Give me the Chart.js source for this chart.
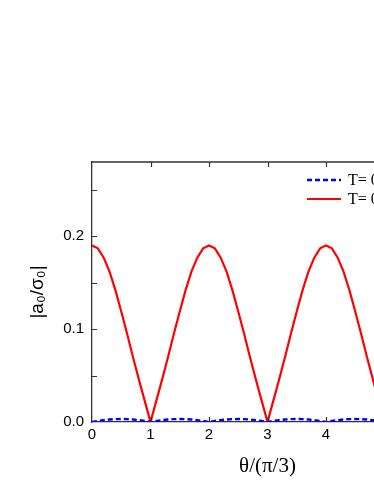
<!DOCTYPE html>
<html>
<head>
<meta charset="utf-8">
<script src="https://cdn.jsdelivr.net/npm/chart.js@4.4.0/dist/chart.umd.min.js"></script>
<style>
html, body { margin: 0; padding: 0; background: #fff; overflow: hidden; }
</style>
</head>
<body>
<canvas id="myChart" width="470" height="484"></canvas>
<script>
Chart.defaults.color = 'black';
Chart.defaults.font.family = "'Liberation Sans', Arial, sans-serif";


// DATA
// ================================================================
var theta = [
	0.0, 0.1, 0.2, 0.3, 0.4, 0.5, 0.6, 0.7, 0.8, 0.9,
	1.0, 1.1, 1.2, 1.3, 1.4, 1.5, 1.6, 1.7, 1.8, 1.9,
	2.0, 2.1, 2.2, 2.3, 2.4, 2.5, 2.6, 2.7, 2.8, 2.9,
	3.0, 3.1, 3.2, 3.3, 3.4, 3.5, 3.6, 3.7, 3.8, 3.9,
	4.0, 4.1, 4.2, 4.3, 4.4, 4.5, 4.6, 4.7, 4.8, 4.9,
	5.0, 5.1, 5.2, 5.3, 5.4, 5.5, 5.6, 5.7, 5.8, 5.9,
	6.0
];

var seriesLow = [
	0.0000, 0.0011, 0.0020, 0.0027, 0.0031, 0.0032, 0.0031, 0.0027, 0.0020, 0.0011,
	0.0000, 0.0011, 0.0020, 0.0027, 0.0031, 0.0032, 0.0031, 0.0027, 0.0020, 0.0011,
	0.0000, 0.0011, 0.0020, 0.0027, 0.0031, 0.0032, 0.0031, 0.0027, 0.0020, 0.0011,
	0.0000, 0.0011, 0.0020, 0.0027, 0.0031, 0.0032, 0.0031, 0.0027, 0.0020, 0.0011,
	0.0000, 0.0011, 0.0020, 0.0027, 0.0031, 0.0032, 0.0031, 0.0027, 0.0020, 0.0011,
	0.0000, 0.0011, 0.0020, 0.0027, 0.0031, 0.0032, 0.0031, 0.0027, 0.0020, 0.0011,
	0.0000
];

var seriesHigh = [
	0.190, 0.187, 0.177, 0.162, 0.142, 0.119, 0.095, 0.070, 0.046, 0.023,
	0.000, 0.023, 0.046, 0.070, 0.095, 0.119, 0.142, 0.162, 0.177, 0.187,
	0.190, 0.187, 0.177, 0.162, 0.142, 0.119, 0.095, 0.070, 0.046, 0.023,
	0.000, 0.023, 0.046, 0.070, 0.095, 0.119, 0.142, 0.162, 0.177, 0.187,
	0.190, 0.187, 0.177, 0.162, 0.142, 0.119, 0.095, 0.070, 0.046, 0.023,
	0.000, 0.023, 0.046, 0.070, 0.095, 0.119, 0.142, 0.162, 0.177, 0.187,
	0.190
];

var legendLabels = ['T= 0.1 K', 'T= 0.9 K'];
var xTickValues = [0, 1, 2, 3, 4, 5, 6];
var yTickValues = [0, 0.05, 0.1, 0.15, 0.2, 0.25];

function toPoints(ys) {
	return ys.map(function (v, i) { return { x: theta[i], y: v }; });
}

var data = {
	datasets: [
		{
			label: legendLabels[0],
			data: toPoints(seriesLow),
			borderColor: '#0000ff',
			borderWidth: 2.4,
			borderDash: [5, 3],
			pointRadius: 0,
			tension: 0
		},
		{
			label: legendLabels[1],
			data: toPoints(seriesHigh),
			borderColor: '#ff0000',
			borderWidth: 2.2,
			pointRadius: 0,
			tension: 0
		}
	]
};


// Plugins
// ================================================================
// inward tick marks on all four sides + top/right frame
var frameTicks = {
	id: 'frameTicks',
	afterDraw: function (chart) {
		var c = chart.ctx, a = chart.chartArea;
		var sx = chart.scales.x, sy = chart.scales.y;
		c.save();
		c.strokeStyle = '#333';
		c.lineWidth = 1.3;
		c.beginPath();
		c.moveTo(a.left, a.top);
		c.lineTo(a.right, a.top);
		c.lineTo(a.right, a.bottom);
		c.stroke();

		c.lineWidth = 1.2;
		c.beginPath();
		xTickValues.forEach(function (v) {
			if (v <= sx.min || v >= sx.max) return;
			var px = Math.round(sx.getPixelForValue(v)) + 0.5;
			c.moveTo(px, a.bottom); c.lineTo(px, a.bottom - 5);
			c.moveTo(px, a.top); c.lineTo(px, a.top + 5);
		});
		yTickValues.forEach(function (v) {
			if (v <= sy.min || v >= sy.max) return;
			var py = Math.round(sy.getPixelForValue(v)) + 0.5;
			c.moveTo(a.left, py); c.lineTo(a.left + 5, py);
			c.moveTo(a.right, py); c.lineTo(a.right - 5, py);
		});
		c.stroke();
		c.restore();
	}
};

// legend drawn inside the plot, top right
var insideLegend = {
	id: 'insideLegend',
	afterDraw: function (chart) {
		var c = chart.ctx;
		var rows = [180, 199];
		c.save();
		chart.data.datasets.forEach(function (ds, i) {
			c.strokeStyle = ds.borderColor;
			c.lineWidth = ds.borderWidth;
			c.setLineDash(ds.borderDash || []);
			c.beginPath();
			c.moveTo(307, rows[i]);
			c.lineTo(341, rows[i]);
			c.stroke();
			c.setLineDash([]);
			c.fillStyle = 'black';
			c.font = "16px 'Liberation Serif', 'Times New Roman', serif";
			c.textBaseline = 'middle';
			c.textAlign = 'left';
			c.fillText(ds.label, 348, rows[i] + 1);
		});
		c.restore();
	}
};

var Plugins = {
	legend: { display: false },
	tooltip: { enabled: false }
};


// OPTIONS
// ================================================================
var options = {
	responsive: false,
	animation: false,
	plugins: Plugins,
	layout: {
		padding: { left: 0, top: 162, right: 27, bottom: 0 }
	},

	scales: {

		x: {
			type: 'linear',
			min: 0,
			max: 6,
			afterFit: function (s) { s.height = 62; },
			title: {
				display: true,
				text: 'θ/(π/3)',
				font: { family: "'Liberation Serif', 'Times New Roman', serif", size: 21 },
				padding: { top: 5, bottom: 5 }
			},
			ticks: {
				stepSize: 1,
				padding: 4,
				maxRotation: 0,
				font: { size: 15 }
			},
			grid: { display: false, drawTicks: false },
			border: { color: '#333', width: 1.3 }
		},

		y: {
			min: 0,
			max: 0.28,
			afterFit: function (s) { s.width = 92; },
			title: {
				display: true,
				text: '|a₀/σ₀|',
				font: { size: 19 },
				padding: { top: 26, bottom: 0 }
			},
			ticks: {
				stepSize: 0.1,
				padding: 8,
				font: { size: 15 },
				callback: function (value) {
					var r = Math.round(value * 10) / 10;
					return Math.abs(value - r) < 1e-6 ? r.toFixed(1) : '';
				}
			},
			grid: { display: false, drawTicks: false },
			border: { color: '#333', width: 1.3 }
		}

	}
};


// Create the chart
var ctx = document.getElementById('myChart').getContext('2d');
var Render = new Chart(ctx, {
	type: 'line',
	data: data,
	options: options,
	plugins: [frameTicks, insideLegend]
});
</script>
</body>
</html>
